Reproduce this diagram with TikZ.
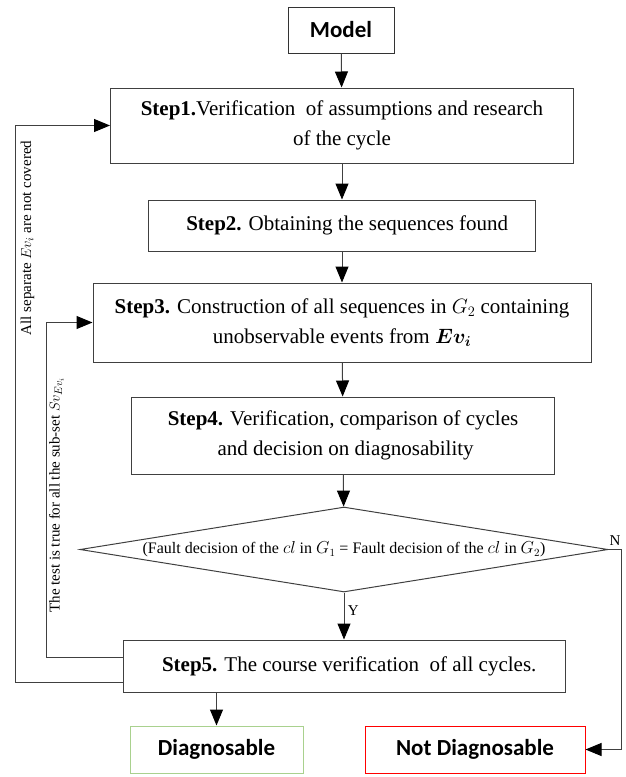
\documentclass[tikz,border=0pt]{standalone}
\usepackage{amsmath,bm}
\usepackage{fontspec}
\setmainfont{Liberation Serif}
\newfontfamily\calibri{Carlito}
\usetikzlibrary{arrows.meta,shapes.geometric}
\definecolor{okgreen}{HTML}{A9D18E}
\definecolor{kored}{HTML}{FF0000}
\tikzset{
  stepbox/.style={draw=black!75, line width=1pt, inner sep=0pt, align=center,
    font=\fontsize{21}{30}\selectfont},
  endbox/.style={line width=1pt, inner sep=0pt, font=\calibri\bfseries\fontsize{23}{28}\selectfont},
  arr/.style={draw=black!75, line width=1pt, -{Triangle[width=13pt,length=16pt,fill=black,color=black]}},
  sidelabel/.style={rotate=90, font=\fontsize{15}{18}\selectfont},
}
\begin{document}
\begin{tikzpicture}[x=1pt,y=-1pt]
  \useasboundingbox (0,0) rectangle (626,777);
  % Start
  \node[endbox, draw=black!80, minimum width=106pt, minimum height=46pt] (model) at (341,30) {Model};
  % Steps
  \node[stepbox, minimum width=463pt, minimum height=75pt] (step1) at (342,125.5)
    {\textbf{Step1.}Verification\ \ of assumptions and research\\of the cycle};
  \node[stepbox, minimum width=387pt, minimum height=51pt] (step2) at (342,225.5)
    {\ \ \textbf{Step2.} Obtaining the sequences found};
  \node[stepbox, minimum width=498pt, minimum height=79pt] (step3) at (342,322.5)
    {\textbf{Step3.} Construction of all sequences in $G_2$ containing\\unobservable events from $\bm{Ev_i}$};
  \node[stepbox, minimum width=423pt, minimum height=77pt] (step4) at (343,435.5)
    {\textbf{Step4.} Verification, comparison of cycles\\ \ and decision on diagnosability};
  % Test
  \node[diamond, draw=black!75, line width=1pt, inner sep=0pt, aspect=6,
    minimum width=528pt, minimum height=85pt, font=\fontsize{16}{19}\selectfont] (test) at (344,549.5)
    {\makebox[0pt]{(Fault decision of the $cl$ in $G_1$ = Fault decision of the $cl$ in $G_2$)}};
  \node[stepbox, minimum width=442pt, minimum height=52pt] (step5) at (344,666)
    {\ \ \textbf{Step5.} The course verification\ \ of all cycles.};
  % Results
  \node[endbox, draw=okgreen, minimum width=173pt, minimum height=47pt] (diag) at (216.5,749.5) {Diagnosable};
  \node[endbox, draw=kored, minimum width=220pt, minimum height=47pt] (notdiag) at (475,749.5) {Not Diagnosable};
  % Main flow
  \draw[arr] (model) -- (step1);
  \draw[arr] (step1) -- (step2);
  \draw[arr] (step2) -- (step3);
  \draw[arr] (step3) -- (step4);
  \draw[arr] (step4) -- (test);
  \draw[arr] (test) -- node[right, pos=0.38, font=\fontsize{15}{18}\selectfont]{Y} (step5);
  \draw[arr] (step5.south -| diag.north) -- (diag.north);
  \draw[arr] (test.east) -- node[above, font=\fontsize{15}{18}\selectfont]{N} ++(13,0) |- (notdiag.east);
  % Loops back
  \draw[arr] ([yshift=-16pt]step5.west) -- ++(-107,0) |- (step1.west);
  \draw[arr] ([yshift=9pt]step5.west) -- ++(-76,0) |- (step3.west);
  \node[sidelabel] (lblouter) at (27.5,238) {All separate $Ev_i$ are not covered};
  \node[sidelabel] (lblinner) at (56.5,495) {The test is true for all the sub-set $Sv_{Ev_i}$};
\end{tikzpicture}
\end{document}
